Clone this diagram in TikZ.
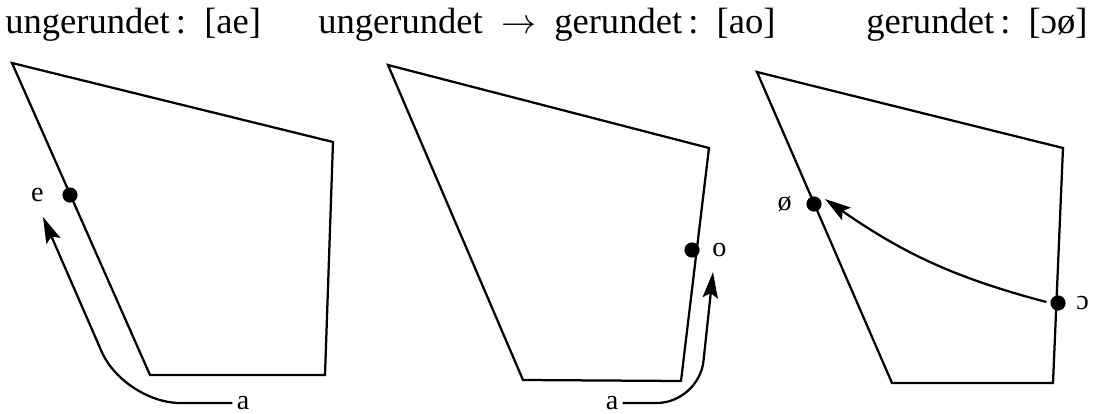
\documentclass[tikz,border=0pt]{standalone}
\usepackage{fontspec}
\setmainfont{Liberation Serif}
\usetikzlibrary{
	arrows.meta,
	positioning
}

\begin{document}
\begin{tikzpicture}[x=0.025cm, y=-0.025cm,
  rahmen/.style={line width=1.6pt, line join=miter},
  punkt/.style={circle, fill, inner sep=0pt, minimum size=3.8mm},
  laut/.style={font=\fontsize{20}{22}\selectfont, inner sep=3pt},
  titel/.style={font=\fontsize{26}{30}\selectfont, anchor=base west, inner sep=0pt},
  pfeil/.style={-{Stealth[length=6.5mm, width=3.8mm, inset=1.2mm]}, line width=1.6pt}
]
\useasboundingbox (0,0) rectangle (1094,414);

% Ueberschriften
\node[titel] (t1) at (5,33) {ungerundet\,:\ \ [ae]};
\node[titel] (t2) at (318,33) {ungerundet\ \ $\rightarrow$\ \ gerundet\,:\ \ [ao]};
\node[titel] (t3) at (866,33) {gerundet\,:\ \ [ɔø]};

% Vokaltrapeze
\draw[rahmen] (12,63) -- (333,142) -- (325,375) -- (150,375) -- cycle;
\draw[rahmen] (388,65) -- (709,148) -- (681,381) -- (523,380) -- cycle;
\draw[rahmen] (757,72) -- (1063,148) -- (1053,383) -- (892,383) -- cycle;

% [ae]
\node[punkt] (e1) at (70,195) {};
\node[laut, left=3.5mm of e1] (le1) {e};
\node[laut] (a1) at (243,403) {a};
\coordinate (s1) at (43,217);
\draw[pfeil, rounded corners=40] (a1.west) -- (124,403) -- (s1);

% [ao]
\node[punkt] (o2) at (692,250) {};
\node[laut, right=2mm of o2] (lo2) {o};
\node[laut] (a2) at (612,403) {a};
\coordinate (s2) at (713,272);
\draw[pfeil, rounded corners=30] (a2.east) -- (699,403) -- (s2);

% [ɔø]
\node[punkt] (oe3) at (814,204) {};
\node[laut, left=2.5mm of oe3] (loe3) {ø};
\node[punkt] (o3) at (1058,303) {};
\node[laut, right=1.5mm of o3] (lo3) {ɔ};
\coordinate (s3) at (825,199);
\draw[pfeil, shorten <=1mm] (o3.west) to[bend left=10] (s3);
\end{tikzpicture}
\end{document}
